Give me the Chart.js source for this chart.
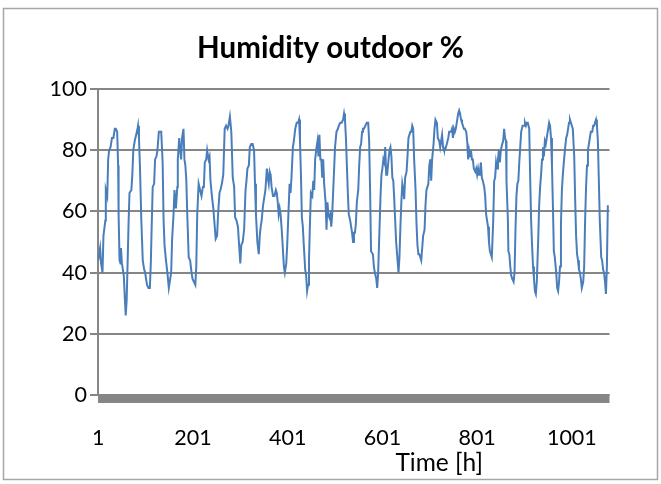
<!DOCTYPE html>
<html>
<head>
<meta charset="utf-8">
<script src="https://cdn.jsdelivr.net/npm/chart.js@4/dist/chart.umd.min.js"></script>
<style>
  html, body { margin: 0; padding: 0; background: #ffffff; }
  canvas { display: block; }
</style>
</head>
<body>
<canvas id="chart" width="661" height="484"></canvas>
<script>
// Outdoor relative humidity, hourly record
const chartTitle = 'Humidity outdoor %';
const xAxisTitle = 'Time [h]';
const xTickHours = [1, 201, 401, 601, 801, 1001];
const yTickValues = [0, 20, 40, 60, 80, 100];

// hour of the record
const hours = [
  1, 5, 7, 10, 12, 16, 17, 20, 22, 24,
  27, 30, 33, 36, 38, 41, 43, 44, 46, 48,
  49, 51, 55, 57, 59, 61, 63, 65, 67, 71,
  73, 75, 78, 81, 84, 85, 87, 89, 92, 95,
  98, 100, 104, 107, 110, 112, 114, 116, 119, 121,
  124, 126, 129, 131, 134, 137, 139, 141, 144, 147,
  150, 152, 155, 157, 160, 162, 165, 168, 169,
  172, 174, 176, 178, 181, 183, 185, 187, 189, 192,
  195, 198, 200, 203, 206, 208, 210, 213, 216, 219,
  222, 224, 226, 229, 231, 234, 236, 238, 241, 244,
  247, 249, 252, 254, 257, 259, 262, 265, 268, 271,
  274, 276, 279, 282, 285, 288, 290, 293, 296, 298,
  301, 303, 306, 309, 312, 314, 316, 319, 321, 324,
  327, 330, 332, 334, 337, 340, 342, 344, 346, 349,
  354, 357, 359, 361, 363, 365, 367, 370, 373, 376,
  378, 380, 382, 384, 386, 388, 390, 393, 395, 398,
  400, 402, 405, 407, 409, 412, 414, 417, 420, 423,
  425, 427, 429, 431, 433, 435, 438, 440, 442, 444,
  446, 448, 450, 453, 455, 457, 459, 462, 464, 466,
  468, 470, 472, 474, 476, 478, 481, 483, 485, 487,
  489, 491, 493, 495, 498, 501, 504, 507, 509, 512,
  515, 518, 520, 522, 524, 526, 528, 530, 533,
  537, 539, 541, 543, 545, 547, 550, 552, 554, 556,
  558, 560, 562, 565, 568, 571, 573, 575, 577, 579,
  581, 583, 585, 588, 590, 592, 595, 597, 599, 601,
  603, 605, 607, 609, 611, 614, 616, 618, 620, 622,
  624, 626, 628, 630, 633, 635, 637, 639, 641, 643,
  645, 647, 649, 652, 654, 656, 658, 660, 662, 664,
  666, 668, 671, 673, 675, 677, 679, 681, 683, 685,
  687, 690, 692, 694, 696, 698, 700, 702, 704, 706,
  709, 711, 713,
  716, 718, 721, 723, 725, 727, 729, 731, 733, 735,
  737, 740, 742, 744, 746, 748, 750, 752, 754, 756,
  759, 761, 763, 765, 767, 769, 771, 773, 775, 778,
  780, 782, 784, 786, 788, 790, 792, 794, 797, 799,
  801, 803, 805, 807, 809, 811, 813, 816, 818, 820,
  822, 824, 826, 828, 830, 832, 835, 837, 839, 841,
  843, 845, 847, 849, 851, 854, 856, 858, 860, 862,
  863, 866, 867, 869, 871, 873, 875, 878, 880, 882,
  884, 886, 888, 890, 892, 894, 897,
  900, 902, 904, 906, 908, 911, 913, 915, 917, 919,
  921, 923, 925, 927, 930, 932, 934, 936, 938, 940,
  942, 944, 946, 949, 951, 953, 955, 957, 959, 961,
  963, 965, 968, 970, 972, 974, 976, 978, 980, 982,
  984, 987, 989, 991, 993, 995, 997, 999, 1001, 1003,
  1006, 1008, 1010, 1012, 1014, 1016, 1018, 1020, 1022, 1025,
  1027, 1029, 1031, 1033, 1035, 1037, 1039, 1041, 1044, 1046,
  1048, 1050, 1052, 1054, 1056, 1058, 1060, 1063, 1065, 1067,
  1069, 1071, 1073, 1075, 1077
];

// relative humidity, %
const humidity = [
  44, 48, 43, 40, 52, 57, 67, 65, 77, 80,
  81, 84, 84, 87, 87, 86, 75, 59, 44, 43,
  48, 43, 39, 32, 26, 31, 43, 56, 66, 67,
  72, 80, 83, 85, 87, 88, 84, 75, 57, 44,
  41, 40, 36, 35, 35, 43, 56, 68, 69, 77,
  78, 80, 86, 86, 86, 76, 57, 49, 44, 40,
  35, 37, 40, 51, 59, 67, 61, 68, 77,
  84, 80, 77, 84, 87, 77, 75, 70, 59, 45,
  44, 40, 38, 37, 36, 42, 59, 69, 67, 65,
  68, 68, 76, 77, 80, 77, 78, 70, 65, 61,
  55, 51, 52, 59, 66, 67, 69, 72, 87, 88,
  87, 88, 91, 86, 71, 68, 58, 57, 55, 50,
  43, 49, 50, 54, 67, 70, 74, 75, 81, 82,
  82, 80, 69, 59, 50, 46, 52, 55, 57, 62,
  67, 74, 71, 69, 73, 72, 68, 65, 65, 67,
  66, 63, 59, 61, 59, 55, 50, 42, 40, 43,
  49, 57, 69, 66, 71, 81, 83, 87, 89, 89,
  90, 83, 72, 58, 55, 49, 41, 39, 34, 36,
  44, 56, 66, 65, 70, 67, 77, 81, 83, 78,
  85, 77, 77, 71, 77, 69, 63, 54, 63, 59,
  58, 59, 55, 59, 70, 81, 86, 87, 88, 89,
  89, 90, 92, 90, 84, 75, 66, 59, 57,
  53, 50, 53, 53, 56, 63, 67, 75, 81, 82,
  86, 87, 87, 88, 89, 89, 83, 67, 47, 47,
  46, 42, 40, 38, 35, 40, 55, 65, 72, 74,
  77, 76, 81, 72, 72, 77, 80, 81, 78, 71,
  70, 64, 57, 50, 44, 40, 45, 55, 63, 69,
  67, 64, 71, 73, 78, 84, 85, 86, 86, 88,
  87, 77, 67, 56, 49, 46, 46, 45, 44, 48,
  52, 54, 62, 67, 68, 69, 75, 77, 70, 77,
  82, 87, 90,
  89, 84, 83, 81, 83, 85, 81, 80, 80, 81,
  82, 84, 86, 86, 86, 87, 84, 87, 86, 87,
  90, 92, 93, 92, 90, 89, 88, 87, 87, 86,
  83, 77, 80, 78, 80, 77, 77, 74, 73, 74,
  72, 74, 72, 73, 76, 71, 70, 68, 65, 59,
  57, 55, 50, 47, 46, 45, 57, 70, 71, 76,
  74, 77, 80, 76, 80, 82, 83, 87, 84, 83,
  70, 57, 47, 46, 42, 39, 38, 37, 40, 54,
  65, 69, 70, 76, 81, 86, 88,
  88, 89, 88, 89, 89, 87, 71, 57, 49, 42,
  38, 34, 33, 37, 51, 62, 68, 72, 77, 81,
  78, 83, 82, 85, 87, 89, 88, 84, 75, 62,
  47, 45, 40, 35, 34, 37, 42, 56, 67, 72,
  76, 81, 84, 85, 87, 89, 90, 89, 88, 87,
  78, 64, 52, 46, 44, 41, 40, 38, 35, 37,
  42, 57, 68, 75, 80, 82, 84, 86, 86, 88,
  88, 89, 90, 88, 83, 70, 57, 45, 44, 41,
  40, 37, 33, 42, 62
];

const points = hours.map((h, i) => ({ x: h, y: humidity[i] }));

const FONT = 'Lato';
const GRID = '#868686';

// frame, the dense category-tick band under the plot and the axis title
const decorations = {
  id: 'decorations',
  beforeDraw(chart) {
    const { ctx, width, height } = chart;
    ctx.save();
    ctx.fillStyle = '#ffffff';
    ctx.fillRect(0, 0, width, height);
    ctx.strokeStyle = '#a6a6a6';
    ctx.lineWidth = 1.5;
    ctx.strokeRect(3.5, 8.5, width - 7, height - 13);
    ctx.restore();
  },
  afterDraw(chart) {
    const { ctx, chartArea } = chart;
    ctx.save();
    ctx.fillStyle = GRID;
    ctx.fillRect(chartArea.left, chartArea.bottom - 1, chartArea.right - chartArea.left, 9);
    ctx.fillStyle = '#000000';
    ctx.font = '24.5px ' + FONT;
    ctx.textAlign = 'center';
    ctx.textBaseline = 'middle';
    const cx = chartArea.left + 0.667 * (chartArea.right - chartArea.left);
    ctx.fillText(xAxisTitle, cx, chartArea.bottom + 68);
    ctx.restore();
  }
};

new Chart(document.getElementById('chart'), {
  type: 'line',
  data: {
    datasets: [{
      data: points,
      borderColor: '#4a7ebb',
      borderWidth: 2,
      pointRadius: 0,
      tension: 0,
      fill: false
    }]
  },
  options: {
    responsive: false,
    animation: false,
    devicePixelRatio: 1,
    parsing: false,
    layout: { padding: 0 },
    plugins: {
      legend: { display: false },
      tooltip: { enabled: false },
      title: {
        display: true,
        text: chartTitle,
        color: '#000000',
        font: { family: FONT, size: 29.5, weight: 'bold' },
        padding: { top: 31, bottom: 22.6 }
      }
    },
    scales: {
      x: {
        type: 'linear',
        min: 0.5,
        max: 1080.5,
        afterBuildTicks(scale) {
          scale.ticks = xTickHours.map(v => ({ value: v }));
        },
        afterFit(scale) { scale.height = 89; },
        grid: { display: false, drawTicks: false },
        border: { display: false },
        ticks: {
          color: '#000000',
          font: { family: FONT, size: 21.5 },
          padding: 30,
          maxRotation: 0,
          autoSkip: false,
          callback: v => String(v)
        }
      },
      y: {
        min: 0,
        max: 100,
        afterBuildTicks(scale) {
          scale.ticks = yTickValues.map(v => ({ value: v }));
        },
        afterFit(scale) { scale.width = 98; },
        grid: { color: GRID, lineWidth: 2, tickLength: 8, drawTicks: true },
        border: { color: GRID, width: 2 },
        ticks: {
          color: '#000000',
          font: { family: FONT, size: 21.5 },
          padding: 3
        }
      },
      // empty margin on the right of the plot
      yRight: {
        position: 'right',
        min: 0,
        max: 100,
        afterFit(scale) { scale.width = 51.5; },
        grid: { display: false, drawTicks: false },
        border: { display: false },
        ticks: { display: false }
      }
    }
  },
  plugins: [decorations]
});
</script>
</body>
</html>
